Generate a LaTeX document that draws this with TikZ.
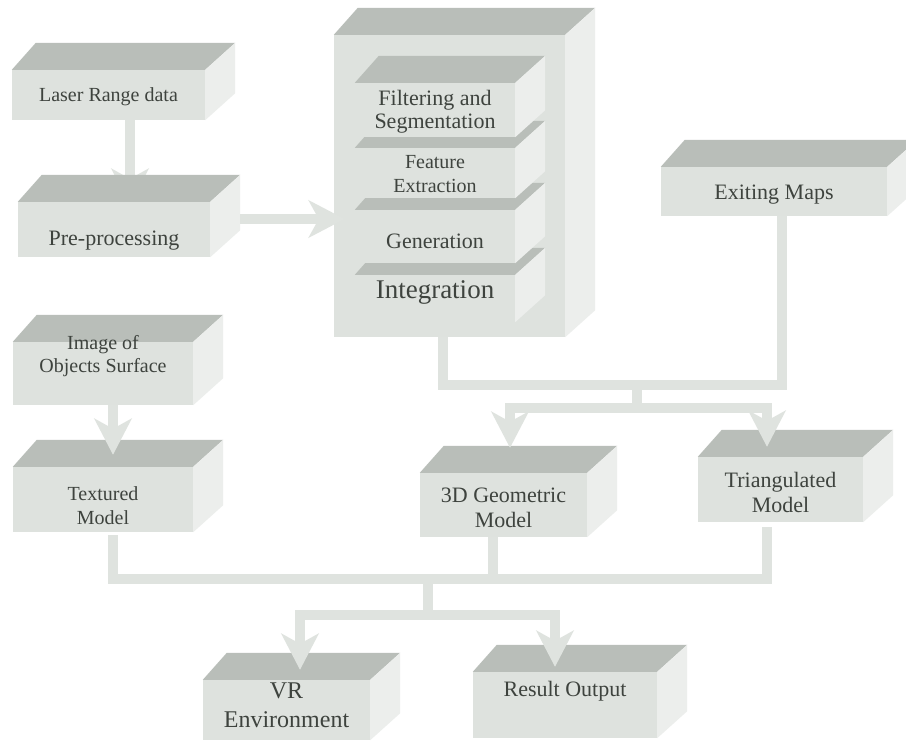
\documentclass[tikz,border=0pt]{standalone}
\usepackage{fontspec}
\setmainfont{Liberation Serif}
\usepackage{xcolor}
\usepackage{tikz}
\usetikzlibrary{arrows.meta, backgrounds}

\definecolor{facefront}{HTML}{DEE2DE}
\definecolor{facetop}{HTML}{B9BEB9}
\definecolor{faceside}{HTML}{ECEEEC}
\definecolor{pipe}{HTML}{DFE3DF}
\definecolor{inktext}{HTML}{3E433E}

% text block centred on the node, raised by the optional shift
\newcommand{\lbl}[2][0pt]{\raisebox{\dimexpr#1-0.35em\relax}[0pt][0pt]{\begin{tabular}{@{}c@{}}#2\end{tabular}}}

\tikzset{
  slab/.style={fill=facefront, inner sep=0pt, text=inktext,
    font=\fontsize{22}{25}\selectfont,
    append after command={\pgfextra{%
      \fill[facetop] (\tikzlastnode.north west) -- ++(24,-27)
        -- ([shift={(30,-27)}]\tikzlastnode.north east) -- (\tikzlastnode.north east) -- cycle;
      \fill[faceside] (\tikzlastnode.north east) -- ++(30,-27)
        -- ([shift={(30,-27)}]\tikzlastnode.south east) -- (\tikzlastnode.south east) -- cycle;}}},
  pipeline/.style={draw=pipe, line width=10pt},
  flow/.style={pipeline, -{Stealth[length=36pt,width=37pt,inset=10pt]}},
}

\begin{document}
\begin{tikzpicture}[x=1pt,y=-1pt]
\useasboundingbox (0,0) rectangle (906,740);
% processing block with its stacked stages
\node[slab, minimum width=231pt, minimum height=302pt] (core) at (449.5,186) {};
\node[slab, minimum width=160pt, minimum height=47pt, font=\fontsize{27}{30}\selectfont] (integ) at (435,298.5) {\lbl[9.5pt]{Integration}};
\node[slab, minimum width=160pt, minimum height=53pt] (gen) at (435,236.5) {\lbl[-4pt]{Generation}};
\node[slab, minimum width=160pt, minimum height=50pt, font=\fontsize{20}{23.5}\selectfont] (feat) at (435,173) {\lbl[-1pt]{Feature\\Extraction}};
\node[slab, minimum width=160pt, minimum height=54pt, font=\fontsize{22}{22.5}\selectfont] (filt) at (435,110) {\lbl{Filtering and\\Segmentation}};
% inputs
\node[slab, minimum width=193pt, minimum height=50pt, font=\fontsize{20}{23}\selectfont] (laser) at (108.5,95) {\lbl{Laser Range data}};
\node[slab, minimum width=192pt, minimum height=55pt] (prep) at (114,229.5) {\lbl[-8pt]{Pre-processing}};
\node[slab, minimum width=226pt, minimum height=49pt] (maps) at (774,191.5) {\lbl{Exiting Maps}};
\node[slab, minimum width=180pt, minimum height=63pt, font=\fontsize{20}{23}\selectfont] (img) at (103,373.5) {\lbl[18.5pt]{Image of\\Objects Surface}};
% models
\node[slab, minimum width=180pt, minimum height=65pt, font=\fontsize{20}{24}\selectfont] (tex) at (103,499.5) {\lbl[-6pt]{Textured\\Model}};
\node[slab, minimum width=167pt, minimum height=64pt] (geo) at (503.5,505) {\lbl[-2.5pt]{3D Geometric\\Model}};
\node[slab, minimum width=165pt, minimum height=65pt] (tri) at (780.5,489.5) {\lbl[-3pt]{Triangulated\\Model}};
% outputs
\node[slab, minimum width=167pt, minimum height=60pt, font=\fontsize{24}{29}\selectfont] (vr) at (286.5,710) {\lbl[5pt]{VR\\Environment}};
\node[slab, minimum width=184pt, minimum height=66pt] (res) at (565,705) {\lbl[16pt]{Result Output}};

% scanner feed (behind the boxes)
\begin{scope}[on background layer]
\fill[white] (0,0) rectangle (906,740);
\draw[flow] ([xshift=21.5pt]laser.south) -- ([xshift=16pt,yshift=-3pt]prep.north);
\end{scope}
\draw[flow] ([xshift=30pt,yshift=10.5pt]prep.east) -- ([xshift=11pt,yshift=-33pt]core.west);
\draw[flow] ([xshift=10pt]img.south) -- ([xshift=10pt,yshift=12pt]tex.north);

% merge toward the models
\coordinate (upj) at (637,385);
\coordinate (upk) at (637,408);
\draw[pipeline] ([xshift=-6.5pt]core.south) |- (upj) -| ([xshift=8pt]maps.south);
\draw[pipeline] (upj) -- (upk);
\draw[flow] (upk) -| ([xshift=6.5pt,yshift=25pt]geo.north);
\draw[flow] (upk) -| ([xshift=-13.5pt,yshift=10pt]tri.north);

% merge toward the outputs
\coordinate (loj) at (428,579);
\coordinate (lok) at (428,615);
\draw[pipeline] ([xshift=10pt,yshift=-3pt]tex.south) |- (loj) -| ([xshift=-13.5pt,yshift=-5pt]tri.south);
\draw[pipeline] ([xshift=-10.5pt]geo.south) |- (loj);
\draw[pipeline] (loj) -- (lok);
\draw[flow] (lok) -| ([xshift=13.5pt,yshift=10pt]vr.north);
\draw[flow] (lok) -| ([xshift=-10pt,yshift=5pt]res.north);
\end{tikzpicture}
\end{document}
